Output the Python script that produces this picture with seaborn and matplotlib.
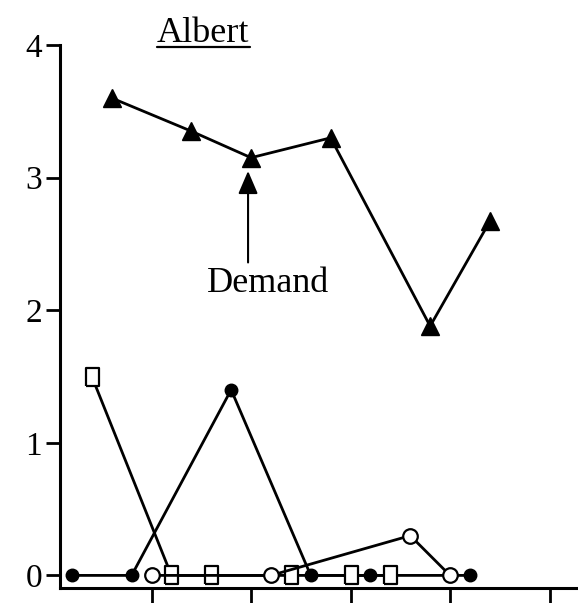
import matplotlib
matplotlib.use("Agg")
import matplotlib.pyplot as plt
import seaborn as sns
import pandas as pd
from matplotlib.lines import Line2D

# ---- data ----
title_text = "Albert"
demand_label = "Demand"

filled_sessions = [1, 4, 9, 13, 16, 21]
filled_values = [0, 0, 1.4, 0, 0, 0]

square_sessions = [2, 6, 8, 12, 15, 17]
square_values = [1.5, 0, 0, 0, 0, 0]

open_sessions = [5, 11, 18, 20]
open_values = [0, 0, 0.3, 0]

demand_sessions = [3, 7, 10, 14, 19, 22]
demand_values = [3.6, 3.35, 3.15, 3.3, 1.88, 2.67]

x_ticks = [5, 10, 15, 20, 25]
y_ticks = [0, 1, 2, 3, 4]
y_tick_labels = ["0", "1", "2", "3", "4"]

# ---- style ----
sns.set_style("ticks")
plt.rcParams["font.family"] = ["Liberation Serif", "DejaVu Serif"]

W, H = 578, 603
fig = plt.figure(figsize=(W / 100, H / 100), dpi=100)
ax = fig.add_axes([60 / W, 15 / H, 518 / W, 543 / H])

lw = 2.0
rect_marker = [(-0.36, -0.5), (0.36, -0.5), (0.36, 0.5), (-0.36, 0.5), (-0.36, -0.5)]

sns.lineplot(x=filled_sessions, y=filled_values, ax=ax, color="black", lw=lw,
             marker="o", ms=9, markerfacecolor="black", markeredgecolor="black",
             markeredgewidth=1.0, errorbar=None, zorder=3)
sns.lineplot(x=square_sessions, y=square_values, ax=ax, color="black", lw=lw,
             marker=rect_marker, ms=13, markerfacecolor="white", markeredgecolor="black",
             markeredgewidth=1.6, errorbar=None, zorder=3)
sns.lineplot(x=open_sessions, y=open_values, ax=ax, color="black", lw=lw,
             marker="o", ms=10.5, markerfacecolor="white", markeredgecolor="black",
             markeredgewidth=1.6, errorbar=None, zorder=3)
sns.lineplot(x=demand_sessions, y=demand_values, ax=ax, color="black", lw=lw,
             marker="^", ms=13, markerfacecolor="black", markeredgecolor="black",
             markeredgewidth=1.0, errorbar=None, zorder=3)

ax.set_xlim(0.4, 26.43)
ax.set_ylim(-0.095, 4.0)
ax.set_xticks(x_ticks)
ax.set_xticklabels([])
ax.set_yticks(y_ticks)
ax.set_yticklabels(y_tick_labels)
ax.tick_params(axis="y", direction="out", length=10, width=2.0, labelsize=24,
               pad=3, colors="black")
ax.tick_params(axis="x", direction="out", length=14, width=2.0, colors="black")
ax.set_xlabel("")
ax.set_ylabel("")
for s in ["top", "right"]:
    ax.spines[s].set_visible(False)
for s in ["left", "bottom"]:
    ax.spines[s].set_linewidth(2.2)
    ax.spines[s].set_color("black")

# Demand arrow and label
ax.annotate("", xy=(9.85, 3.05), xytext=(9.85, 2.36),
            arrowprops=dict(arrowstyle="-|>,head_length=1.4,head_width=0.6",
                            color="black", lw=1.5, shrinkA=0, shrinkB=0))
ax.text(10.85, 2.14, demand_label, ha="center", va="baseline", fontsize=26,
        color="black")

# Title with underline
t = ax.text(7.6, 4.02, title_text, ha="center", va="baseline", fontsize=26,
            color="black", clip_on=False)
fig.canvas.draw()
bb = t.get_window_extent()
base = ax.transData.transform((7.6, 4.02))[1]
uy = (base - 5) / H
fig.add_artist(Line2D([bb.x0 / W, bb.x1 / W], [uy, uy], color="black", lw=1.6))

fig.savefig("out.png", dpi=100)
